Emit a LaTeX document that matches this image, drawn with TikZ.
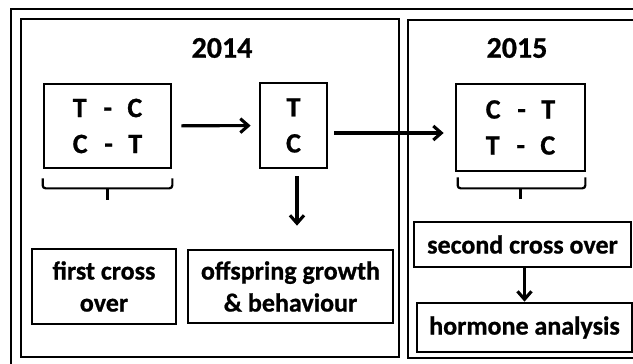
\documentclass[tikz,border=0pt]{standalone}
\usepackage{fontspec}
\setmainfont{Carlito}[BoldFeatures={FakeBold=0.8}]
\usepackage{tikz}
\usetikzlibrary{positioning,arrows.meta}

\begin{document}
\begin{tikzpicture}[
                x=1pt, y=-1pt,
                rahmen/.style={draw, line width=2.7pt, inner sep=0pt},
                kasten/.style={draw, line width=2.7pt, inner sep=0pt, align=center,
                    font=\fontsize{26}{32}\selectfont\bfseries},
                paar/.style={kasten, font=\fontsize{28}{36}\selectfont\bfseries},
                titel/.style={font=\fontsize{30}{34}\selectfont\bfseries},
                pfeil/.style={-{Straight Barb[length=8pt, width=14pt]}, line width=3.1pt},
                klammer/.style={line width=2.2pt, rounded corners=3pt}
            ]
            \useasboundingbox (0,0) rectangle (633,364);
            \clip (0,0) rectangle (633,364);

            % Rahmen
            \node[rahmen, minimum width=640, minimum height=370] (Aussen) at (331,194) {};
            \node[rahmen, minimum width=378, minimum height=338] (Jahr2014) at (210,188) {};
            \node[rahmen, minimum width=240, minimum height=338] (Jahr2015) at (528,189) {};

            \node[titel] (Titel2014) at (222,48) {2014};
            \node[titel] (Titel2015) at (517,48) {2015};

            \node[paar, minimum width=127, minimum height=84] (Paar1) at (107.5,126) {T\hspace{0.6em}-\hspace{0.55em}C\\C\hspace{0.6em}-\hspace{0.55em}T};
            \node[paar, minimum width=67, minimum height=85] (Nachkomme) at (293.5,125.5) {T\\C};
            \node[paar, minimum width=129, minimum height=87] (Paar2) at (520.5,127.5) {C\hspace{0.6em}-\hspace{0.55em}T\\T\hspace{0.6em}-\hspace{0.55em}C};

            \node[kasten, minimum width=144, minimum height=75] (Kreuzung1) at (104,286.5) {first cross\\over};
            \node[kasten, minimum width=205, minimum height=73] (Wachstum) at (290.5,286.5) {offspring growth\\\& behaviour};
            \node[kasten, minimum width=217, minimum height=45] (Kreuzung2) at (522.5,244.5) {second cross over};
            \node[kasten, minimum width=215, minimum height=49] (Hormone) at (524.5,327.5) {hormone analysis};

            % Klammern
            \draw[klammer] ([yshift=-9pt]Paar1.south west) |- ([yshift=-19pt]Paar1.south) -| ([yshift=-9pt]Paar1.south east);
            \draw[klammer] ([yshift=-19pt]Paar1.south) -- ++(0,12);
            \draw[klammer] ([xshift=3pt,yshift=-5pt]Paar2.south west) |- ([yshift=-16pt]Paar2.south) -| ([xshift=-1pt,yshift=-5pt]Paar2.south east);
            \draw[klammer] ([yshift=-16pt]Paar2.south) -- ++(0,11);

            % Pfeile
            \draw[pfeil, shorten <=9pt, shorten >=8pt] (Paar1) -- (Nachkomme);
            \draw[pfeil, shorten <=6pt, shorten >=11pt] ([yshift=-7.5pt]Nachkomme.east) -- ([yshift=-7.5pt]Nachkomme.east -| Paar2.west);
            \draw[pfeil, shorten <=7pt, shorten >=23pt] ([xshift=3.5pt]Nachkomme.south) -- ([xshift=3.5pt]Nachkomme.south |- Wachstum.north);
            \draw[pfeil] (Kreuzung2.south -| Hormone.north) -- (Hormone.north);
        \end{tikzpicture}
\end{document}
